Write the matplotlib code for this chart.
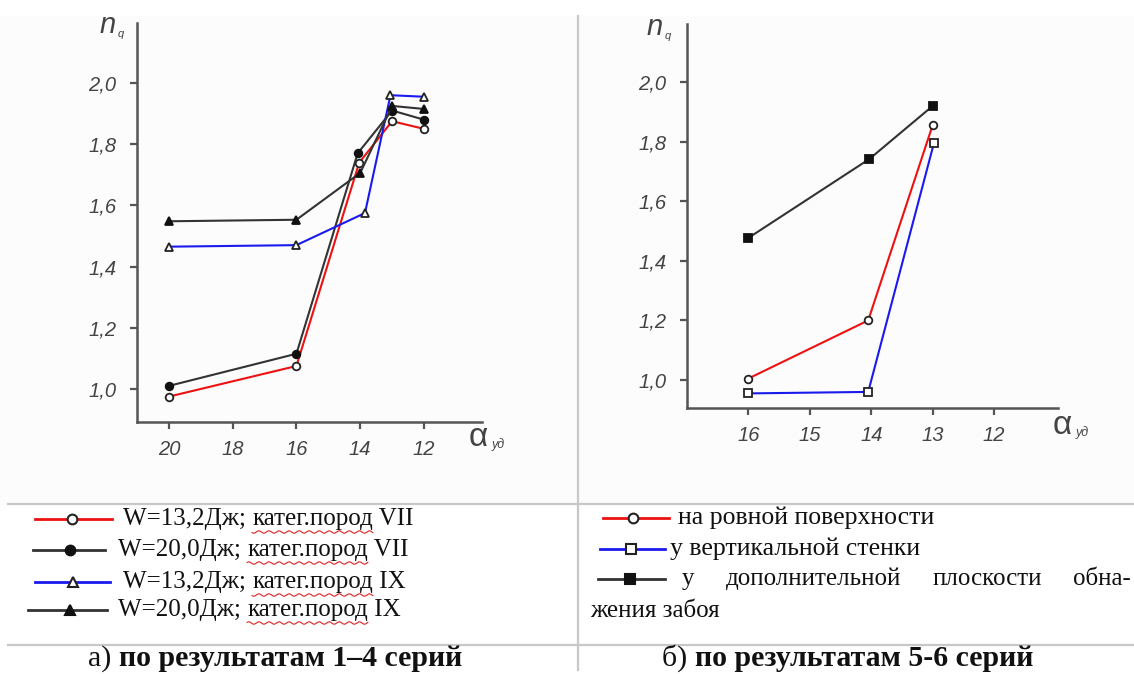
import numpy as np
import matplotlib
matplotlib.use("Agg")
import matplotlib.pyplot as plt

# --- data: left panel (series 1-4)
x_a_red = [20, 16, 14.03, 13, 12]
y_a_red = [0.975, 1.075, 1.74, 1.875, 1.85]
x_a_blk = [20, 16, 14.08, 13, 12]
y_a_blk = [1.01, 1.115, 1.77, 1.91, 1.88]
x_a_blu = [20, 16, 13.85, 13.05, 12]
y_a_blu = [1.465, 1.47, 1.575, 1.96, 1.955]
x_a_tri = [20, 16, 14, 13, 12]
y_a_tri = [1.548, 1.553, 1.706, 1.925, 1.915]
ticks_a_x = [20, 18, 16, 14, 12]

# --- data: right panel (series 5-6)
x_b_red = [16, 14.05, 13]
y_b_red = [1.005, 1.2, 1.856]
x_b_blu = [16, 14.05, 12.98]
y_b_blu = [0.955, 0.96, 1.795]
x_b_blk = [16, 14.03, 13]
y_b_blk = [1.477, 1.742, 1.92]
ticks_b_x = [16, 15, 14, 13, 12]

ticks_y = [1.0, 1.2, 1.4, 1.6, 1.8, 2.0]

labels_a = ["W=13,2Дж; ", "W=20,0Дж; ", "W=13,2Дж; ", "W=20,0Дж; "]
labels_a_tail = [" VII", " VII", " IX", " IX"]
labels_b = ["на ровной поверхности", "у вертикальной стенки",
            "у дополнительной плоскости обна-", "жения забоя"]

RED = "#ee1111"
BLUE = "#1a1aee"
DARK = "#333333"
GREY = "#555555"

sty_a = [
    dict(color=RED, marker="o", mfc="white", mec="#222222"),
    dict(color=DARK, marker="o", mfc="#111111", mec="#111111"),
    dict(color=BLUE, marker="^", mfc="white", mec="#222222"),
    dict(color=DARK, marker="^", mfc="#111111", mec="#111111"),
]
sty_b = [
    dict(color=RED, marker="o", mfc="white", mec="#222222"),
    dict(color=BLUE, marker="s", mfc="white", mec="#222222"),
    dict(color=DARK, marker="s", mfc="#111111", mec="#111111"),
]

fig = plt.figure(figsize=(11.34, 6.74), dpi=100)

# overlay in pixel coordinates for frame, legend and captions
ov = fig.add_axes([0, 0, 1, 1], zorder=-1)
ov.set_xlim(0, 1134)
ov.set_ylim(674, 0)
ov.axis("off")
ov.add_patch(plt.Rectangle((0, 16), 1134, 488, color="#fcfcfc", zorder=0))
ov.plot([578, 578], [16, 670], color="#c8c8c8", lw=1.6)
ov.plot([8, 1134], [504, 504], color="#c8c8c8", lw=1.6)
ov.plot([8, 1134], [645, 645], color="#c8c8c8", lw=1.6)


def style_axes(ax, xt, xlim, ylim):
    ax.set_xlim(*xlim)
    ax.set_ylim(*ylim)
    ax.patch.set_alpha(0)
    for s in ["top", "right"]:
        ax.spines[s].set_visible(False)
    for s in ["left", "bottom"]:
        ax.spines[s].set_color(GREY)
        ax.spines[s].set_linewidth(1.8)
    ax.set_xticks(xt)
    ax.set_yticks(ticks_y)
    ax.set_xticklabels([str(v) for v in xt])
    ax.set_yticklabels([f"{v:.1f}".replace(".", ",") for v in ticks_y])
    ax.tick_params(colors=GREY, width=1.6, length=5, labelsize=14.5, labelcolor="#444444")
    ax.tick_params(axis="x", pad=8)
    ax.tick_params(axis="y", pad=10)
    for lb in ax.get_xticklabels() + ax.get_yticklabels():
        lb.set_fontstyle("italic")
        lb.set_family("Liberation Sans")


axa = fig.add_axes([137 / 1134, 1 - 422 / 674, 345 / 1134, 399 / 674])
style_axes(axa, ticks_a_x, (21.0, 10.18), (0.892, 2.196))
series_a = [(x_a_red, y_a_red), (x_a_blk, y_a_blk), (x_a_blu, y_a_blu), (x_a_tri, y_a_tri)]
for (xs, ys), st in zip(series_a, sty_a):
    axa.plot(xs, ys, lw=1.5, ms=5.5, mew=1.3, **st)

axb = fig.add_axes([687 / 1134, 1 - 408 / 674, 371 / 1134, 384 / 674])
style_axes(axb, ticks_b_x, (17.0, 10.96), (0.906, 2.195))
series_b = [(x_b_red, y_b_red), (x_b_blu, y_b_blu), (x_b_blk, y_b_blk)]
for (xs, ys), st in zip(series_b, sty_b):
    axb.plot(xs, ys, lw=1.5, ms=5.5, mew=1.3, **st)

# axis names
for x, y in [(108, 25), (655, 27)]:
    ov.text(x, y, "n", fontsize=21, color="#444444", ha="center", va="center",
            family="Liberation Sans", style="italic")
    ov.text(x + 13, y + 9, "q", fontsize=8, color="#444444", ha="center", va="center",
            family="Liberation Sans", style="italic")
for x, y in [(478, 437), (1062, 425)]:
    ov.text(x, y, "α", fontsize=24, color="#444444", ha="center", va="center",
            family="Liberation Sans")
    ov.text(x + 20, y + 8, "уд", fontsize=9, color="#444444", ha="center", va="center",
            family="Liberation Sans", style="italic")

# legends
fig.canvas.draw()
rend = fig.canvas.get_renderer()
FS = 18


def put(x, y, s, **kw):
    t = ov.text(x, y, s, fontsize=kw.pop("fontsize", FS), family="Liberation Serif",
                va=kw.pop("va", "center"), ha="left", color="#111111", **kw)
    bb = t.get_window_extent(rend)
    return t, bb.x1


def wavy(x0, x1, y):
    xx = np.linspace(x0, x1, int(x1 - x0) * 2)
    ov.plot(xx, y + 1.2 * np.sin(xx / 1.6), color="#dd2222", lw=0.8)


rows_a = [(35, 112, 72, 123, 519), (33, 105, 70, 118, 550),
          (35, 110, 73, 123, 582), (28, 107, 70, 118, 610)]
for (l0, l1, mx, tx, y), st, head, tail in zip(rows_a, sty_a, labels_a, labels_a_tail):
    ov.plot([l0, l1], [y, y], color=st["color"], lw=2)
    ov.plot([mx], [y], marker=st["marker"], mfc=st["mfc"], mec=st["mec"], ms=7, mew=1.5)
    _, xe = put(tx, y, head)
    _, xe2 = put(xe, y, "катег.пород")
    wavy(xe, xe2, y + 13)
    put(xe2, y, tail)

rows_b = [(603, 669, 633, 678, 518), (600, 665, 631, 670, 549), (598, 665, 630, 682, 579)]
for (l0, l1, mx, tx, y), st in zip(rows_b, sty_b):
    ov.plot([l0, l1], [y, y], color=st["color"], lw=2)
    ov.plot([mx], [y], marker=st["marker"], mfc=st["mfc"], mec=st["mec"], ms=7, mew=1.5)
put(678, 518, labels_b[0], fontsize=18.5)
put(670, 549, labels_b[1], fontsize=18.5)

# justified third row: words spread from 682 to 1131
words = labels_b[2].split()
tw = []
for w in words:
    t, xe = put(0, 579, w)
    tw.append(xe - t.get_window_extent(rend).x0)
    t.remove()
gap = (1131 - 682 - sum(tw)) / (len(words) - 1)
xx = 682
for w, wd in zip(words, tw):
    put(xx, 579, w)
    xx += wd + gap
put(590, 611, labels_b[3])

# captions
CF = 21.5
_, xe = put(88, 666, "а) ", fontsize=CF, va="baseline")
put(xe, 666, "по результатам 1–4 серий", fontsize=CF, weight="bold", va="baseline")
_, xe = put(662, 666, "б) ", fontsize=CF, va="baseline")
put(xe, 666, "по результатам 5-6 серий", fontsize=CF, weight="bold", va="baseline")

fig.savefig("out.png", dpi=100)
